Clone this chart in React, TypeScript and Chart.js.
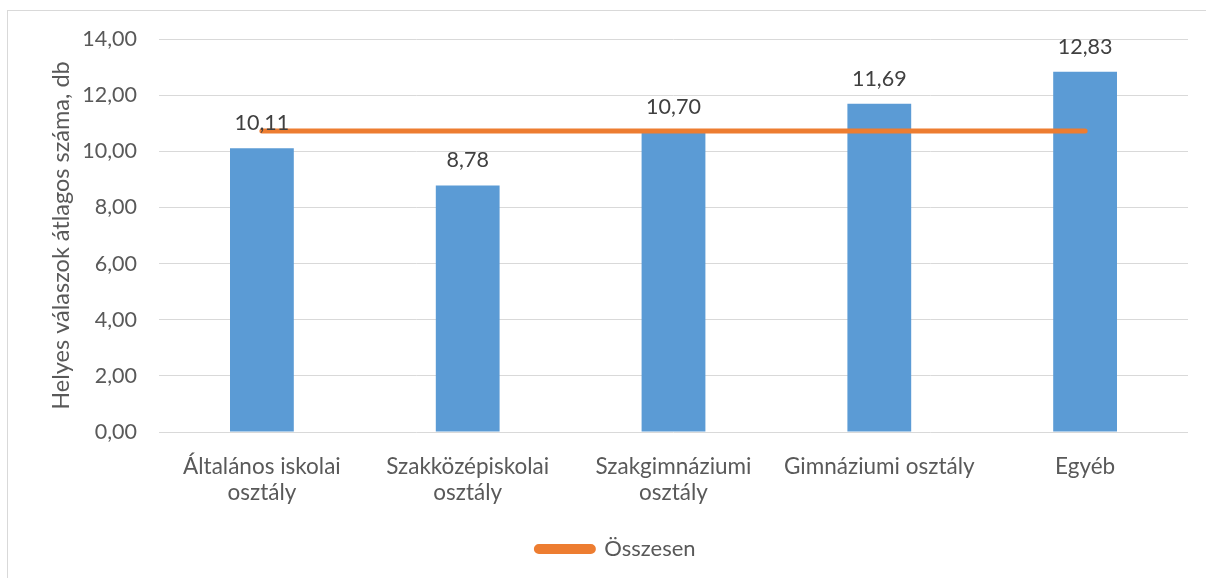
import React, { useEffect, useRef } from "react";
import { Chart, registerables } from "chart.js";

Chart.register(...registerables);

const categories = [
  ["Általános iskolai", "osztály"],
  ["Szakközépiskolai", "osztály"],
  ["Szakgimnáziumi", "osztály"],
  "Gimnáziumi osztály",
  "Egyéb",
];
const barValues = [10.11, 8.78, 10.7, 11.69, 12.83];
const totalValues = [10.72, 10.72, 10.72, 10.72, 10.72];
const lineLabel = "Összesen";
const yAxisTitle = "Helyes válaszok átlagos száma, db";
const yMin = 0;
const yMax = 14;
const yStep = 2;

const FONT = "Lato";
const fmt = (v: number) => v.toFixed(2).replace(".", ",");

const dataLabels = {
  id: "dataLabels",
  afterDatasetsDraw(chart: any) {
    const meta = chart.getDatasetMeta(0);
    const ctx = chart.ctx;
    ctx.save();
    ctx.font = `21.5px ${FONT}`;
    ctx.fillStyle = "#404040";
    ctx.textAlign = "center";
    ctx.textBaseline = "middle";
    meta.data.forEach((el: any, i: number) => {
      ctx.fillText(fmt(barValues[i]), el.x, el.y - 25);
    });
    ctx.restore();
  },
};

export default function App() {
  const ref = useRef<HTMLCanvasElement | null>(null);
  useEffect(() => {
    if (!ref.current) return;
    const chart = new Chart(ref.current, {
      type: "bar",
      data: {
        labels: categories as any,
        datasets: [
          {
            type: "bar",
            label: "Átlag",
            data: barValues,
            backgroundColor: "#5B9BD5",
            barPercentage: 0.31,
            categoryPercentage: 1,
            order: 2,
          },
          {
            type: "line",
            label: lineLabel,
            data: totalValues,
            borderColor: "#ED7D31",
            backgroundColor: "#ED7D31",
            borderWidth: 5,
            borderCapStyle: "round",
            pointRadius: 0,
            order: 1,
          } as any,
        ],
      },
      options: {
        responsive: false,
        animation: false,
        layout: { padding: { left: 44, right: 18, top: 39, bottom: 8 } },
        plugins: {
          tooltip: { enabled: false },
          legend: {
            position: "bottom",
            labels: {
              color: "#595959",
              font: { family: FONT, size: 22 },
              boxWidth: 57,
              boxHeight: 5,
              padding: 10,
              useBorderRadius: true,
              borderRadius: 2.5,
              filter: (item: any) => item.text === lineLabel,
            },
          },
        },
        scales: {
          x: {
            grid: { display: false, drawTicks: false },
            border: { display: false },
            ticks: {
              color: "#595959",
              font: { family: FONT, size: 22.5, lineHeight: 1.18 },
              padding: 21,
              maxRotation: 0,
              autoSkip: false,
            },
            afterFit: (scale: any) => {
              scale.height = 96;
            },
          },
          y: {
            min: yMin,
            max: yMax,
            grid: { color: "#d9d9d9", lineWidth: 1, drawTicks: false },
            border: { display: false },
            ticks: {
              stepSize: yStep,
              color: "#595959",
              font: { family: FONT, size: 21.5 },
              padding: 22,
              callback: (v: any) => fmt(Number(v)),
            },
            title: {
              display: true,
              text: yAxisTitle,
              color: "#595959",
              font: { family: FONT, size: 23.5 },
              padding: { top: 3, bottom: 3 },
            },
            afterFit: (scale: any) => {
              scale.width = 115;
            },
          },
        },
      },
      plugins: [dataLabels],
    });
    return () => chart.destroy();
  }, []);

  return (
    <div
      style={{
        position: "fixed",
        left: 0,
        top: 0,
        width: 1206,
        height: 578,
        overflow: "hidden",
        background: "#ffffff",
      }}
    >
      <div
        style={{
          position: "absolute",
          left: 7,
          top: 10,
          width: 1260,
          height: 640,
          border: "1px solid #d9d9d9",
        }}
      />
      <canvas
        ref={ref}
        width={1206}
        height={578}
        style={{ position: "absolute", left: 0, top: 0, width: 1206, height: 578 }}
      />
    </div>
  );
}
